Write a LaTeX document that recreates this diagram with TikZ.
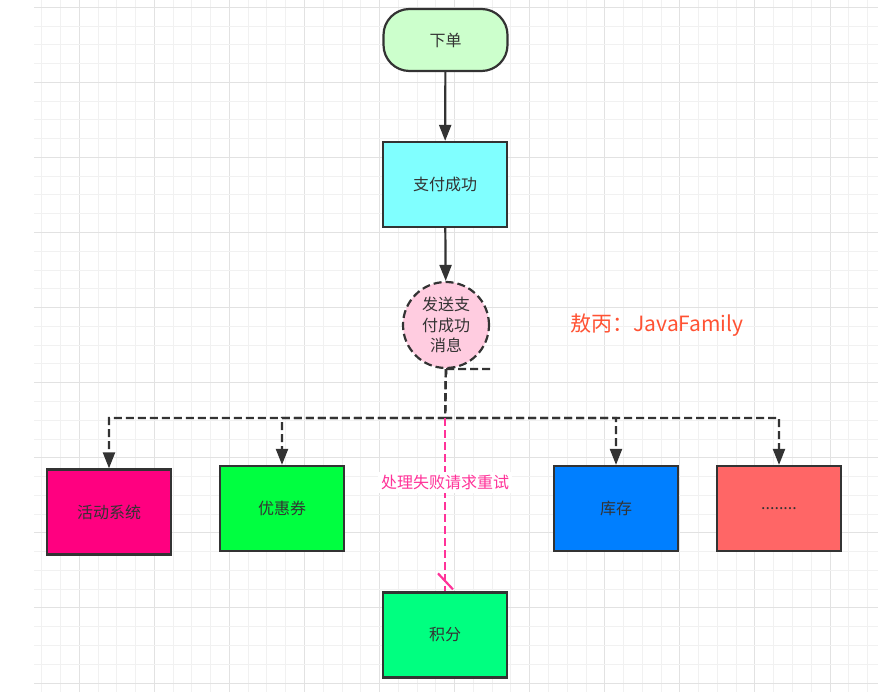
\documentclass[tikz,border=0pt]{standalone}
\usepackage{fontspec}
\setmainfont{Noto Sans CJK SC}
\usetikzlibrary{arrows.meta,positioning,calc}
\definecolor{edge}{HTML}{333333}
\definecolor{gridminor}{HTML}{F1F1F1}
\definecolor{gridmajor}{HTML}{E2E2E2}
\definecolor{ordergreen}{HTML}{CCFFCC}
\definecolor{paidcyan}{HTML}{80FFFF}
\definecolor{msgpink}{HTML}{FFCCE0}
\definecolor{actmagenta}{HTML}{FF0080}
\definecolor{cpngreen}{HTML}{00FF40}
\definecolor{stockblue}{HTML}{007FFF}
\definecolor{morered}{HTML}{FF6666}
\definecolor{ptsgreen}{HTML}{00FF80}
\definecolor{retrypink}{HTML}{FF3399}
\definecolor{signred}{HTML}{FF5233}
\begin{document}
\begin{tikzpicture}[x=1pt, y=-1pt,
    box/.style={draw=edge, line width=2.2pt, minimum width=124pt, minimum height=85pt,
      inner sep=0pt, text=edge, font=\fontsize{16}{20}\selectfont},
    flow/.style={draw=edge, line width=2.2pt, -{Triangle[length=16pt, width=12pt]}},
    busline/.style={flow, dash pattern=on 8pt off 4pt},
    retry/.style={draw=retrypink, line width=2.2pt, dash pattern=on 8pt off 4pt}]
    \useasboundingbox (0, 0) rectangle (893, 692);
    % canvas grid
    \foreach \i in {0,...,44}
        \pgfmathsetmacro{\gx}{41.7+\i*18.77}
        \pgfmathparse{mod(\i,4)==2 ? "gridmajor" : "gridminor"}
        \draw[\pgfmathresult, line width=1pt] (\gx, 0) -- (\gx, 692);
    \foreach \j in {0,...,36}
        \pgfmathsetmacro{\gy}{7.3+\j*18.77}
        \pgfmathparse{mod(\j,4)==0 ? "gridmajor" : "gridminor"}
        \draw[\pgfmathresult, line width=1pt] (34, \gy) -- (878, \gy);
    % nodes
    \node[box, fill=ordergreen, rounded corners=26pt, minimum height=62pt] (order) at (445.5, 40) {下单};
    \node[box, fill=paidcyan] (paid) at (445, 184.5) {支付成功};
    \node[box, fill=msgpink, circle, minimum size=86pt, dash pattern=on 8pt off 4pt,
      align=center, font=\fontsize{16}{20.5}\selectfont] (msg) at (446, 325) {发送支\\付成功\\消息};
    \node[box, fill=actmagenta] (act) at (109, 512) {活动系统};
    \node[box, fill=cpngreen] (cpn) at (282, 508.5) {优惠券};
    \node[box, fill=stockblue] (stock) at (616, 508.5) {库存};
    \node[box, fill=morered] (more) at (779, 508.5) {........};
    \node[box, fill=ptsgreen] (pts) at (445, 635) {积分};
    \node[anchor=west, text=signred, font=\fontsize{21}{24}\selectfont] (sign) at (567, 325) {敖丙：JavaFamily};
    % connectors
    \coordinate (fork) at (445, 418);
    \coordinate (stub) at (491, 369);
    \draw[flow] (order) -- (paid);
    \draw[flow] (paid) -- (msg);
    \draw[draw=edge, line width=2.2pt, dash pattern=on 8pt off 4pt] (msg.south) -- (stub);
    \draw[busline] (msg.south) -- (fork) -| (act.north);
    \draw[busline] (msg.south) -- (fork) -| (cpn.north);
    \draw[busline] (msg.south) -- (fork) -| (stock.north);
    \draw[busline] (msg.south) -- (fork) -| (more.north);
    \draw[retry] (fork) -- node[pos=0.37, fill=white, inner sep=3pt, text=retrypink,
      font=\fontsize{16}{20}\selectfont] (retrylbl) {处理失败请求重试} (pts.north);
    \draw[draw=retrypink, line width=2.2pt] ($(pts.north)+(-7,-18)$) -- ($(pts.north)+(8,-2)$);
\end{tikzpicture}
\end{document}
